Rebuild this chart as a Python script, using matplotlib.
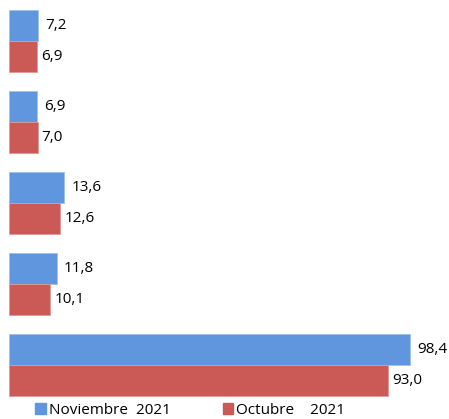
import numpy as np
import matplotlib.pyplot as plt

plt.rcParams['font.family'] = ['Open Sans', 'DejaVu Sans']

# values per category, top group first
noviembre = [7.2, 6.9, 13.6, 11.8, 98.4]
octubre = [6.9, 7.0, 12.6, 10.1, 93.0]
noviembre_lbl = ['7,2', '6,9', '13,6', '11,8', '98,4']
octubre_lbl = ['6,9', '7,0', '12,6', '10,1', '93,0']

c_nov = '#6096dd'
c_oct = '#cb5a57'

W, H = 449, 419
fig = plt.figure(figsize=(W / 100, H / 100), dpi=100)
ax = fig.add_axes([9 / W, (H - 400) / H, (W - 9) / W, 400 / H])

y = np.arange(len(noviembre))
h = 0.383

ax.barh(y - h / 2, noviembre, height=h, color=c_nov, edgecolor='#9cc0ec', linewidth=0.6)
ax.barh(y + h / 2, octubre, height=h, color=c_oct, edgecolor='#e09a98', linewidth=0.6)

for i in range(len(noviembre)):
    ax.annotate(noviembre_lbl[i], (noviembre[i], y[i] - h / 2), xytext=(5, 0),
                textcoords='offset points', va='center', ha='left', fontsize=11)
    ax.annotate(octubre_lbl[i], (octubre[i], y[i] + h / 2), xytext=(3, 0),
                textcoords='offset points', va='center', ha='left', fontsize=11)

ax.set_xlim(0, (W - 9) / 4.075)
ax.set_ylim(4.432, -0.506)
ax.axis('off')

handles = [plt.Rectangle((0, 0), 1, 1, color=c_nov), plt.Rectangle((0, 0), 1, 1, color=c_oct)]
fig.legend(handles, ['Noviembre  2021', 'Octubre    2021'], loc='center left',
           bbox_to_anchor=(35 / W, 9 / H), ncol=2, frameon=False, fontsize=11,
           handlelength=0.7, handleheight=0.7, handletextpad=0.2, columnspacing=3.4,
           borderaxespad=0, borderpad=0)

fig.savefig('out.png', dpi=100)
